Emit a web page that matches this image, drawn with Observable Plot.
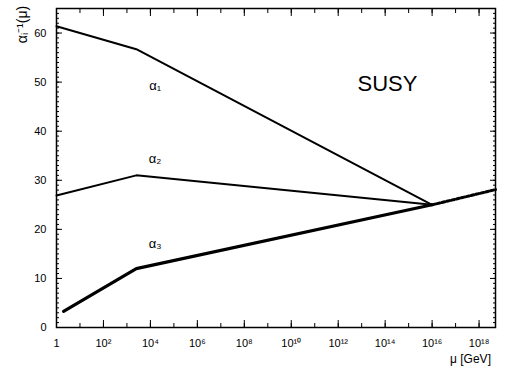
<!DOCTYPE html>
<html><head><meta charset="utf-8">
<script src="https://cdn.jsdelivr.net/npm/d3@7"></script>
<script src="https://cdn.jsdelivr.net/npm/@observablehq/plot@0.6"></script>
<style>body{margin:0;background:#fff}</style>
</head><body><div id="chart"></div>
<script>
// Data
const energy = [1, 10 ** 3.4, 1e16];
const alpha1 = [61.4, 56.7, 25.0];
const alpha2 = [26.9, 31.0, 25.0];
const alpha3Energy = [2, 10 ** 3.4, 1e16];
const alpha3 = [3.3, 12.0, 25.0];
const unifiedEnergy = [1e16, 10 ** 18.7];
const unified = [25.0, 28.1];
const xTicks = [1, 1e2, 1e4, 1e6, 1e8, 1e10, 1e12, 1e14, 1e16, 1e18];
const xTickLabels = ["1", "10²", "10⁴", "10⁶", "10⁸", "10¹⁰", "10¹²", "10¹⁴", "10¹⁶", "10¹⁸"];
const yTicks = [0, 10, 20, 30, 40, 50, 60];
const curveLabels = ["α₁", "α₂", "α₃"];
const labelEnergy = [10 ** 4.2, 10 ** 4.2, 10 ** 4.2];
const labelValue = [49.2, 34.3, 17.1];
const modelLabel = "SUSY";
const yTitle = "αᵢ⁻¹(μ)";
const xTitle = "μ [GeV]";

const toRows = (xs, ys) => xs.map((x, i) => ({x, y: ys[i]}));
const decades = d3.range(0, 19).map(k => 10 ** k);
const minorY = d3.range(0, 66, 1);

const plot = Plot.plot({
  width: 508, height: 368,
  marginLeft: 56, marginRight: 13, marginTop: 8, marginBottom: 41,
  style: {fontFamily: "'Liberation Sans', Arial, sans-serif", fontSize: "11px", background: "white", color: "black"},
  x: {type: "log", domain: [1, 10 ** 18.7]},
  y: {domain: [0, 65]},
  marks: [
    Plot.axisY({anchor: "left", ticks: minorY, tickSize: 3, insetLeft: 3, fill: "none", label: null}),
    Plot.axisY({anchor: "left", ticks: yTicks, tickSize: 6, insetLeft: 6, fill: "none", label: null}),
    Plot.axisY({anchor: "right", ticks: minorY, tickSize: 3, insetRight: 3, fill: "none", label: null}),
    Plot.axisY({anchor: "right", ticks: yTicks, tickSize: 6, insetRight: 6, fill: "none", label: null}),
    Plot.axisY({anchor: "left", ticks: yTicks, tickSize: 0, tickPadding: 10, label: null}),
    Plot.axisX({anchor: "bottom", ticks: decades, tickSize: 4, insetBottom: 4, fill: "none", label: null}),
    Plot.axisX({anchor: "bottom", ticks: xTicks, tickSize: 7, insetBottom: 7, fill: "none", label: null}),
    Plot.axisX({anchor: "top", ticks: decades, tickSize: 4, insetTop: 4, fill: "none", label: null}),
    Plot.axisX({anchor: "top", ticks: xTicks, tickSize: 7, insetTop: 7, fill: "none", label: null}),
    Plot.axisX({anchor: "bottom", ticks: xTicks, tickSize: 0, tickPadding: 12, label: null,
      tickFormat: d => xTickLabels[xTicks.indexOf(d)]}),
    Plot.frame({stroke: "black", strokeWidth: 1.5}),
    Plot.line(toRows(energy, alpha1), {x: "x", y: "y", stroke: "black", strokeWidth: 2}),
    Plot.line(toRows(energy, alpha2), {x: "x", y: "y", stroke: "black", strokeWidth: 2}),
    Plot.line(toRows(alpha3Energy, alpha3), {x: "x", y: "y", stroke: "black", strokeWidth: 3.2}),
    Plot.line(toRows(unifiedEnergy, unified), {x: "x", y: "y", stroke: "black", strokeWidth: 3, strokeDasharray: "3,2"}),
    Plot.text(curveLabels, {x: (d, i) => labelEnergy[i], y: (d, i) => labelValue[i], text: d => d, fontSize: 13}),
    Plot.text([modelLabel], {x: [10 ** 14.1], y: [49.6], text: d => d, fontSize: 22}),
    Plot.text([yTitle], {frameAnchor: "top-left", dx: -34, dy: 16, rotate: -90, textAnchor: "middle", lineAnchor: "middle", text: d => d, fontSize: 14}),
    Plot.text([xTitle], {frameAnchor: "bottom-right", dx: -25, dy: 35, textAnchor: "middle", text: d => d, fontSize: 12})
  ]
});
document.getElementById("chart").append(plot);
</script>
</body></html>
